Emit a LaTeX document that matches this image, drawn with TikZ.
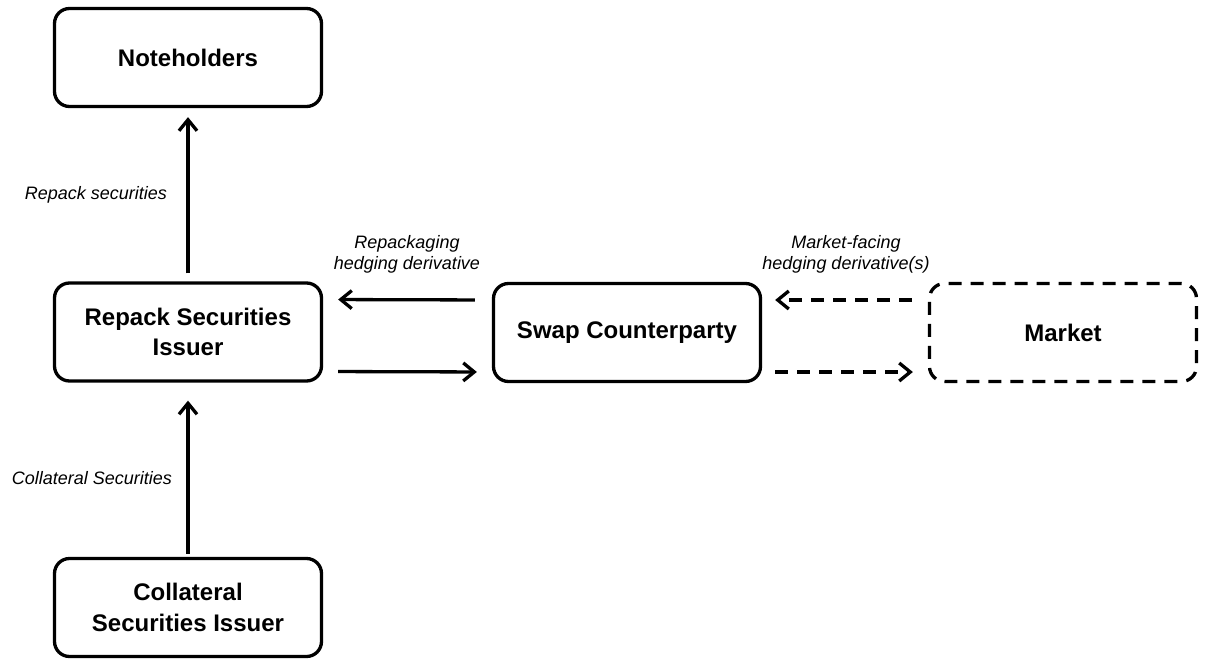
\documentclass[tikz,border=0pt]{standalone}
\usepackage{fontspec}
\setmainfont{Liberation Sans}
\usetikzlibrary{arrows.meta}

\begin{document}
\begin{tikzpicture}[x=1pt,y=-1pt,
		party/.style={draw,line width=3.3pt,rounded corners=15pt,minimum width=267pt,minimum height=98pt,
			align=center,font=\fontsize{24}{30.5}\selectfont\bfseries},
		flow/.style={line width=3.3pt,-{Straight Barb[length=11pt,width=18pt,line width=3.3pt]}},
		loose/.style={dash pattern=on 13pt off 9pt},
		note/.style={align=center,font=\fontsize{18}{21}\selectfont\itshape}]
	\useasboundingbox (0,0) rectangle (1206,658);
	% parties
	\node [party] (holders) at (188,57.5) {Noteholders};
	\node [party] (issuer) at (188,332) {Repack Securities\\Issuer};
	\node [party] (collat) at (188,607.5) {Collateral\\Securities Issuer};
	\node [party] (swap) at (627,332.5) {Swap Counterparty};
	\node [party,loose] (market) at (1063,332.5) {Market};

	% flows
	\draw [flow,shorten <=8pt,shorten >=9pt] (issuer) -- (holders);
	\node [note] (repacklbl) at (96,195) {Repack securities};
	\draw [flow,shorten <=3pt,shorten >=18pt] (collat) -- (issuer);
	\node [note] (collatlbl) at (92,478) {Collateral Securities};

	\draw [flow,shorten <=17pt,shorten >=15pt] ([yshift=32.5pt]swap.west) -- ([yshift=32.5pt]issuer.east);
	\draw [flow,shorten <=15pt,shorten >=15pt] ([yshift=-39.5pt]issuer.east) -- ([yshift=-39.5pt]swap.west);
	\node [note] (hedgelbl) at (407,254) {Repackaging\\hedging derivative};

	\draw [flow,loose,shorten <=16pt,shorten >=13pt] ([yshift=32.5pt]market.west) -- ([yshift=32.5pt]swap.east);
	\draw [flow,loose,shorten <=13pt,shorten >=15pt] ([yshift=-39.5pt]swap.east) -- ([yshift=-39.5pt]market.west);
	\node [note] (marketlbl) at (846,254) {Market-facing\\hedging derivative(s)};
\end{tikzpicture}
\end{document}
